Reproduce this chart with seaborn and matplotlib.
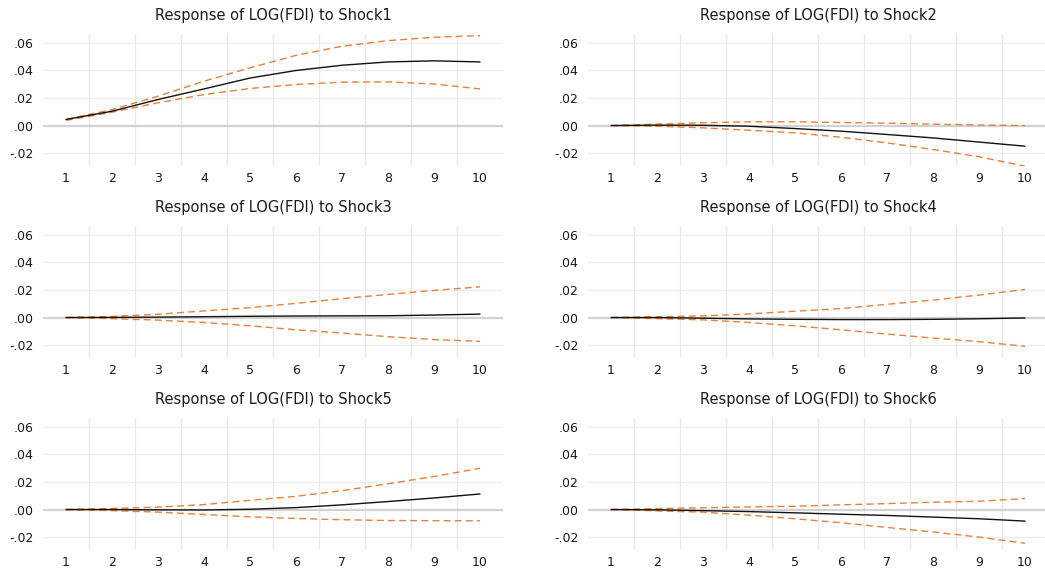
import numpy as np
import pandas as pd
import matplotlib
matplotlib.use("Agg")
import matplotlib.pyplot as plt
import seaborn as sns

periods = [1, 2, 3, 4, 5, 6, 7, 8, 9, 10]
titles = ["Response of LOG(FDI) to Shock1", "Response of LOG(FDI) to Shock2",
          "Response of LOG(FDI) to Shock3", "Response of LOG(FDI) to Shock4",
          "Response of LOG(FDI) to Shock5", "Response of LOG(FDI) to Shock6"]

resp1 = [0.0044, 0.0104, 0.0189, 0.0266, 0.0345, 0.0400, 0.0438, 0.0462, 0.0470, 0.0462]
up1 = [0.0044, 0.0116, 0.0213, 0.0322, 0.0419, 0.0510, 0.0576, 0.0617, 0.0641, 0.0653]
lo1 = [0.0037, 0.0097, 0.0165, 0.0225, 0.0269, 0.0298, 0.0315, 0.0317, 0.0302, 0.0266]

resp2 = [0.0, 0.0003, 0.0002, -0.0005, -0.0022, -0.0041, -0.0065, -0.0090, -0.0120, -0.0150]
up2 = [0.0, 0.0010, 0.0020, 0.0027, 0.0027, 0.0022, 0.0017, 0.0010, 0.0004, 0.0000]
lo2 = [0.0, -0.0005, -0.0017, -0.0034, -0.0053, -0.0085, -0.0126, -0.0174, -0.0227, -0.0295]

resp3 = [0.0, 0.0001, 0.0003, 0.0006, 0.0009, 0.0011, 0.0012, 0.0013, 0.0018, 0.0025]
up3 = [0.0, 0.0008, 0.0024, 0.0048, 0.0072, 0.0103, 0.0137, 0.0168, 0.0197, 0.0223]
lo3 = [0.0, -0.0008, -0.0019, -0.0036, -0.0060, -0.0089, -0.0113, -0.0139, -0.0160, -0.0173]

resp4 = [0.0, 0.0, -0.0005, -0.0010, -0.0013, -0.0015, -0.0015, -0.0013, -0.0009, -0.0003]
up4 = [0.0, 0.0006, 0.0012, 0.0026, 0.0046, 0.0065, 0.0096, 0.0127, 0.0163, 0.0204]
lo4 = [0.0, -0.0008, -0.0017, -0.0036, -0.0060, -0.0089, -0.0120, -0.0149, -0.0175, -0.0209]

resp5 = [0.0, 0.0, -0.0002, -0.0003, 0.0002, 0.0014, 0.0034, 0.0058, 0.0084, 0.0113]
up5 = [0.0, 0.0008, 0.0017, 0.0036, 0.0067, 0.0096, 0.0137, 0.0187, 0.0240, 0.0300]
lo5 = [0.0, -0.0008, -0.0019, -0.0036, -0.0053, -0.0065, -0.0074, -0.0080, -0.0081, -0.0082]

resp6 = [0.0, -0.0002, -0.0008, -0.0015, -0.0024, -0.0034, -0.0043, -0.0055, -0.0067, -0.0084]
up6 = [0.0, 0.0007, 0.0013, 0.0019, 0.0024, 0.0034, 0.0043, 0.0053, 0.0060, 0.0080]
lo6 = [0.0, -0.0010, -0.0019, -0.0041, -0.0067, -0.0096, -0.0130, -0.0163, -0.0200, -0.0245]

responses = [resp1, resp2, resp3, resp4, resp5, resp6]
uppers = [up1, up2, up3, up4, up5, up6]
lowers = [lo1, lo2, lo3, lo4, lo5, lo6]

y_ticks = [-0.02, 0.00, 0.02, 0.04, 0.06]
y_tick_labels = ["-.02", ".00", ".02", ".04", ".06"]

sns.set_theme(style="white")
plt.rcParams['font.family'] = ['DejaVu Sans']

fig = plt.figure(figsize=(10.45, 5.71), dpi=100)

W, H = 1045, 571
col_left = [43, 588]
row_top = [34, 226, 418]
ax_w, ax_h = 460, 132

orange = "#E8803A"
for i in range(6):
    r, c = divmod(i, 2)
    ax = fig.add_axes([col_left[c] / W, 1 - (row_top[r] + ax_h) / H, ax_w / W, ax_h / H])
    df = pd.DataFrame({"period": periods, "resp": responses[i],
                       "upper": uppers[i], "lower": lowers[i]})
    ax.set_xlim(0.5, 10.5)
    ax.set_ylim(-0.0294, 0.0665)
    for yv in [-0.02, 0.02, 0.04, 0.06]:
        ax.axhline(yv, color="#EEEEEE", lw=1.0, zorder=0)
    for xv in np.arange(1.5, 10, 1.0):
        ax.axvline(xv, color="#E9E9E9", lw=1.0, zorder=0)
    ax.axhline(0, color="#D2D2D2", lw=1.6, zorder=1)
    sns.lineplot(data=df, x="period", y="upper", ax=ax, color=orange, lw=1.0,
                 dashes=False, linestyle=(0, (5, 3)), zorder=3)
    sns.lineplot(data=df, x="period", y="lower", ax=ax, color=orange, lw=1.0,
                 dashes=False, linestyle=(0, (5, 3)), zorder=3)
    sns.lineplot(data=df, x="period", y="resp", ax=ax, color="#111111", lw=1.0, zorder=4)
    ax.set_xticks(periods)
    ax.set_xticklabels([str(p) for p in periods], fontsize=9, color="#1a1a1a")
    ax.set_yticks(y_ticks)
    ax.set_yticklabels(y_tick_labels, fontsize=9, color="#1a1a1a")
    ax.tick_params(axis="y", length=0, pad=7)
    ax.tick_params(axis="x", length=0, pad=4)
    ax.set_xlabel("")
    ax.set_ylabel("")
    for s in ax.spines.values():
        s.set_visible(False)
    ax.grid(False)
    ax.set_title(titles[i], fontsize=10.5, pad=10, color="#1a1a1a")

fig.savefig("out.png", dpi=100)
